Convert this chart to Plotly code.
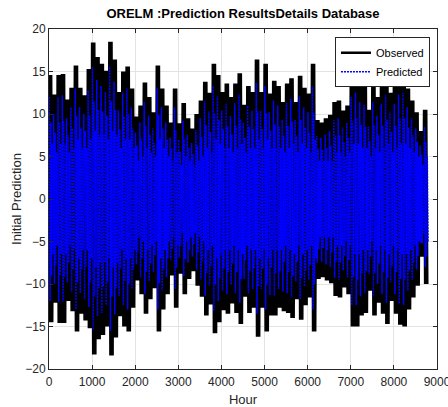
import plotly.graph_objects as go

# Bin start hours (100-hour bins, two cycles per bin)
hours = list(range(0, 8800, 100))

# Observed signal: peak and trough amplitude in each bin
obs_high = [14.6, 12.3, 14.6, 14.7, 11.7, 13.1, 15.7, 13.1, 12.2, 15.3,
            18.4, 16.7, 15.9, 15.1, 18.5, 16.4, 12.6, 15.0, 15.6, 13.0,
            9.7, 11.0, 13.7, 12.0, 10.2, 15.7, 13.0, 11.0, 9.0, 13.0,
            8.9, 11.3, 9.5, 8.3, 10.0, 11.6, 13.8, 12.5, 15.9, 14.6,
            12.6, 13.6, 12.0, 13.6, 14.8, 11.1, 13.3, 12.6, 16.4, 12.6,
            15.9, 12.4, 13.9, 13.3, 11.4, 13.6, 14.2, 11.4, 14.5, 13.1,
            12.4, 15.9, 9.3, 9.0, 9.5, 9.9, 11.4, 11.6, 10.4, 11.0,
            14.4, 15.0, 13.7, 13.4, 10.5, 13.7, 12.0, 13.5, 14.7, 12.5,
            13.5, 14.8, 15.0, 13.0, 11.6, 10.2, 8.0, 10.5]
obs_low = [-14.5, -12.2, -14.6, -14.6, -12.0, -13.2, -15.6, -13.5, -14.3, -15.2,
           -18.3, -16.5, -16.0, -15.0, -18.4, -16.3, -13.8, -15.0, -15.6, -12.8,
           -9.6, -11.2, -13.5, -11.8, -10.5, -15.6, -13.0, -11.2, -9.0, -12.8,
           -8.8, -11.2, -9.4, -8.5, -10.2, -11.5, -13.7, -12.4, -15.8, -14.5,
           -13.1, -13.5, -12.3, -13.4, -14.7, -11.5, -13.4, -12.8, -16.2, -12.8,
           -15.6, -13.7, -13.7, -12.8, -13.2, -13.4, -14.0, -11.8, -14.2, -12.5,
           -11.6, -15.6, -9.4, -9.2, -9.6, -9.9, -11.4, -11.6, -10.4, -11.2,
           -15.0, -15.0, -13.7, -13.4, -10.8, -13.7, -12.2, -13.5, -14.7, -12.0,
           -13.5, -14.8, -15.0, -13.0, -11.6, -10.2, -6.8, -10.0]

# Predicted signal: outer peak/trough reach in each bin
pred_high = [12.0, 10.0, 12.0, 12.2, 9.5, 10.8, 13.0, 10.8, 10.0, 12.8,
             15.5, 14.0, 13.3, 12.6, 15.6, 13.8, 10.4, 12.5, 13.0, 10.8,
             7.8, 9.0, 11.4, 9.8, 8.3, 13.1, 10.8, 9.0, 7.2, 10.8,
             7.0, 9.2, 7.6, 6.6, 8.1, 9.5, 11.5, 10.3, 13.3, 12.1,
             10.4, 11.3, 9.8, 11.3, 12.3, 9.0, 11.0, 10.4, 13.7, 10.4,
             13.3, 10.2, 11.6, 11.0, 9.3, 11.3, 11.8, 9.3, 12.1, 10.8,
             10.2, 13.3, 7.4, 7.2, 7.6, 8.0, 9.3, 9.5, 8.4, 9.0,
             12.0, 12.5, 11.4, 11.1, 8.5, 11.4, 9.8, 11.2, 12.2, 10.3,
             11.2, 12.3, 12.5, 10.8, 9.5, 8.3, 6.3, 8.5]
pred_low = [-12.0, -10.0, -12.1, -12.1, -9.8, -10.9, -13.0, -11.1, -11.8, -12.7,
            -15.4, -13.8, -13.4, -12.5, -15.5, -13.6, -11.4, -12.5, -13.0, -10.6,
            -7.7, -9.2, -11.2, -9.7, -8.6, -13.0, -10.8, -9.2, -7.2, -10.6,
            -6.9, -9.1, -7.5, -6.8, -8.3, -9.5, -11.4, -10.2, -13.2, -12.0,
            -10.8, -11.2, -10.1, -11.1, -12.2, -9.4, -11.1, -10.6, -13.5, -10.6,
            -13.0, -11.3, -11.4, -10.6, -10.9, -11.1, -11.6, -9.7, -11.8, -10.3,
            -9.5, -13.0, -7.5, -7.4, -7.7, -8.0, -9.3, -9.5, -8.4, -9.2,
            -12.5, -12.5, -11.4, -11.1, -8.8, -11.4, -10.0, -11.2, -12.2, -9.8,
            -11.2, -12.3, -12.5, -10.8, -9.5, -8.3, -5.2, -8.0]
# Predicted signal: medium cycle amplitude in each bin
pred_mid = [9.0, 7.8, 9.0, 9.2, 7.5, 8.3, 9.8, 8.3, 8.0, 9.8,
            11.5, 10.5, 10.3, 9.8, 11.5, 10.5, 8.2, 9.7, 10.0, 8.3,
            6.3, 7.0, 8.6, 7.6, 6.6, 9.9, 8.3, 7.0, 5.9, 8.1,
            5.6, 7.1, 6.0, 5.3, 6.3, 7.3, 8.7, 7.9, 10.1, 9.3,
            8.2, 8.6, 7.6, 8.6, 9.4, 7.2, 8.5, 8.2, 10.3, 8.2,
            10.1, 8.1, 8.8, 8.5, 7.4, 8.6, 9.1, 7.4, 9.3, 8.4,
            7.8, 10.1, 5.9, 5.8, 6.0, 6.3, 7.4, 7.5, 6.7, 7.2,
            9.2, 9.5, 8.7, 8.5, 6.8, 8.7, 7.6, 8.6, 9.3, 7.9,
            8.6, 9.4, 9.5, 8.4, 7.5, 6.7, 5.2, 6.8]
# Predicted signal: typical (dense) cycle amplitude in each bin
pred_core = [6.5, 5.5, 6.5, 6.5, 5.5, 6.0, 7.0, 6.0, 6.0, 7.0,
             8.0, 7.5, 7.5, 7.0, 8.0, 7.5, 6.0, 7.0, 7.0, 6.0,
             4.5, 5.0, 6.0, 5.5, 5.0, 7.0, 6.0, 5.0, 4.5, 5.5,
             4.0, 5.0, 4.5, 4.0, 4.5, 5.0, 6.0, 5.5, 7.0, 6.5,
             6.0, 6.0, 5.5, 6.0, 6.5, 5.5, 6.0, 6.0, 7.0, 6.0,
             7.0, 6.0, 6.0, 6.0, 5.5, 6.0, 6.5, 5.5, 6.5, 6.0,
             5.5, 7.0, 4.5, 4.5, 4.5, 4.5, 5.5, 5.5, 5.0, 5.5,
             6.5, 6.5, 6.0, 6.0, 5.0, 6.0, 5.5, 6.0, 6.5, 5.5,
             6.0, 6.5, 6.5, 6.0, 5.5, 5.0, 4.0, 5.0]

x_ticks = [0, 1000, 2000, 3000, 4000, 5000, 6000, 7000, 8000, 9000]
y_ticks = [-20, -15, -10, -5, 0, 5, 10, 15, 20]

obs_x, obs_y = [], []
for h, hi, lo in zip(hours, obs_high, obs_low):
    obs_x += [h, h + 25, h + 50, h + 75]
    obs_y += [hi, lo, hi, lo]

pred_x, pred_y = [], []
for h, hi, lo, m, c in zip(hours, pred_high, pred_low, pred_mid, pred_core):
    pred_x += [h + 8, h + 25, h + 42, h + 58, h + 75, h + 92]
    pred_y += [hi, lo, m, -m, c, -c]

FONT = "Liberation Sans, Arial, sans-serif"
AX = "#262626"

fig = go.Figure()
fig.add_trace(go.Scatter(x=obs_x, y=obs_y, mode="lines", name="Observed",
                         line=dict(color="black", width=2.5, simplify=False)))
fig.add_trace(go.Scatter(x=pred_x, y=pred_y, mode="lines", name="Predicted",
                         line=dict(color="blue", width=1.5, dash="2px,1px", simplify=False)))

axis_common = dict(showline=True, linecolor=AX, linewidth=1, mirror="ticks",
                   ticks="inside", ticklen=4, tickcolor=AX, automargin=False,
                   showgrid=True, gridcolor="#e3e3e3", gridwidth=1,
                   zeroline=False, ticklabeloverflow="allow",
                   tickfont=dict(family=FONT, size=12, color=AX))

fig.update_layout(
    width=448, height=407,
    margin=dict(l=49, r=11, t=29, b=38),
    paper_bgcolor="white", plot_bgcolor="white",
    font=dict(family=FONT, size=12, color=AX),
    title=dict(text="<b>ORELM :Prediction ResultsDetails Database</b>",
               x=0.5, xref="paper", y=1 - 13 / 407, yref="container",
               yanchor="middle", xanchor="center",
               font=dict(family=FONT, size=13, color="black")),
    xaxis=dict(range=[0, 9000], tickvals=x_ticks, ticklabelstandoff=2,
               title=dict(text="Hour", standoff=6, font=dict(family=FONT, size=13, color=AX)),
               **axis_common),
    yaxis=dict(range=[-20, 20], tickvals=y_ticks,
               title=dict(text="Initial Prediction", standoff=0, font=dict(family=FONT, size=13, color=AX)),
               **axis_common),
    legend=dict(x=0.737, y=0.976, xanchor="left", yanchor="top",
                bgcolor="white", bordercolor=AX, borderwidth=1,
                font=dict(family=FONT, size=11, color="black"),
                tracegroupgap=0, itemwidth=30),
    showlegend=True,
)

fig.write_html("out.html", config={"displayModeBar": False},
               post_script="document.body.style.margin='0';")
